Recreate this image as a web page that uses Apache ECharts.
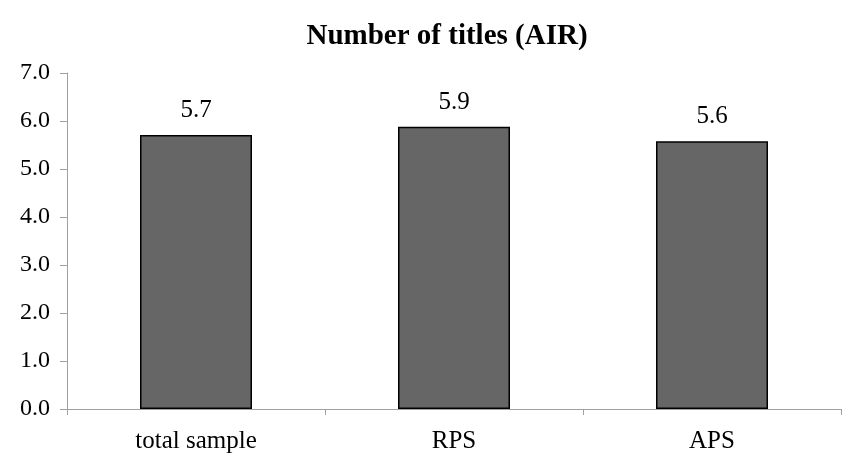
<!DOCTYPE html>
<html>
<head>
<meta charset="utf-8">
<script src="https://cdn.jsdelivr.net/npm/echarts@6/dist/echarts.min.js"></script>
<style>html,body{margin:0;padding:0;background:#fff}#c{width:861px;height:459px}</style>
</head>
<body>
<div id="c"></div>
<script>
const titleText = "Number of titles (AIR)";
const categories = ["total sample", "RPS", "APS"];
const values = [5.71, 5.88, 5.58];
const yTicks = [0, 1, 2, 3, 4, 5, 6, 7];

const chart = echarts.init(document.getElementById('c'), null, {renderer: 'canvas'});
const serif = '"Liberation Serif", "Times New Roman", serif';
chart.setOption({
  animation: false,
  backgroundColor: '#ffffff',
  title: {
    text: titleText,
    left: 442, top: 17, textAlign: 'center',
    textStyle: {fontFamily: serif, fontWeight: 'bold', fontSize: 29, color: '#000'}
  },
  grid: {left: 67, right: 20, top: 73, bottom: 50, containLabel: false},
  xAxis: {
    type: 'category',
    data: categories,
    axisLine: {lineStyle: {color: '#a0a0a0', width: 1}},
    axisTick: {show: true, alignWithLabel: false, length: 6, lineStyle: {color: '#a0a0a0'}},
    axisLabel: {fontFamily: serif, fontSize: 25, color: '#000', margin: 20}
  },
  yAxis: {
    type: 'value',
    min: yTicks[0], max: yTicks[yTicks.length - 1], interval: 1,
    splitLine: {show: false},
    axisLine: {show: true, lineStyle: {color: '#a0a0a0', width: 1}},
    axisTick: {show: true, length: 7, lineStyle: {color: '#a0a0a0'}},
    axisLabel: {fontFamily: serif, fontSize: 24, color: '#000', margin: 17,
      formatter: v => v.toFixed(1)}
  },
  series: [{
    type: 'bar',
    data: values,
    barWidth: 112,
    itemStyle: {color: '#666666', borderColor: '#000', borderWidth: 1.5},
    label: {show: true, position: 'top', distance: 12, fontFamily: serif, fontSize: 25, color: '#000',
      formatter: p => p.value.toFixed(1)}
  }]
});
</script>
</body>
</html>
